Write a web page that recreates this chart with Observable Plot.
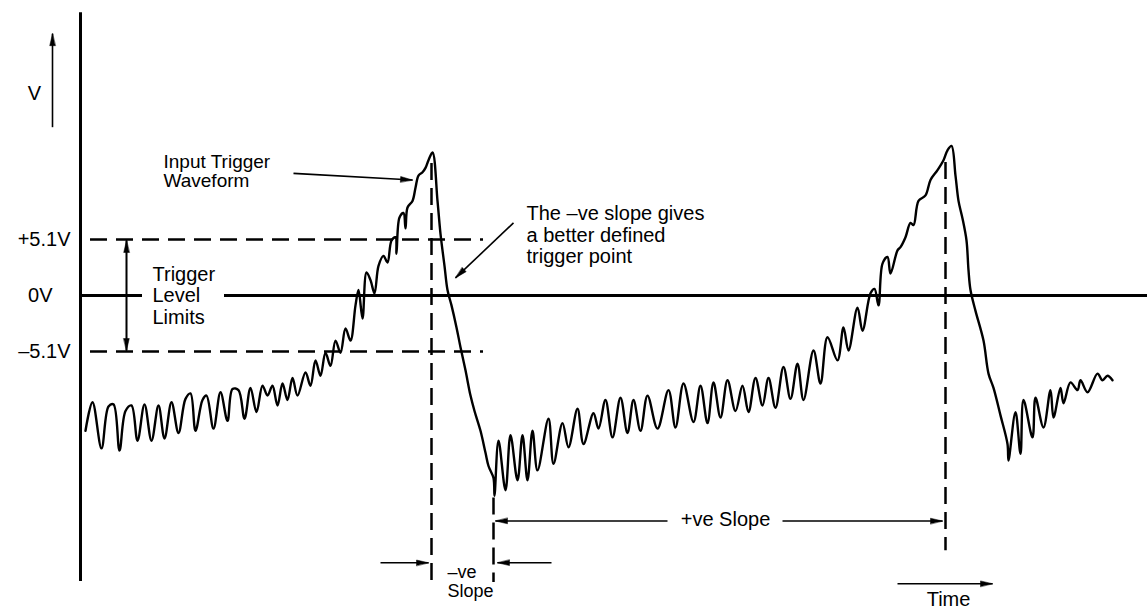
<!DOCTYPE html>
<html><head><meta charset="utf-8">
<script src="https://cdn.jsdelivr.net/npm/d3@7"></script>
<script src="https://cdn.jsdelivr.net/npm/@observablehq/plot@0.6"></script>
<style>
html,body{margin:0;padding:0;background:#fff;}
#chart svg{display:block;}
</style></head><body><div id="chart"></div>
<script>
// Waveform: time (ms) and voltage (V)
const waveTime = [
  0.5,1.2,2.1,2.8,3.3,3.9,4.5,5.1,5.7,6.4,7.1,7.8,8.4,9.1,9.8,10.5,11.0,11.5,12.2,12.6,13.3,14.0,14.7,15.2,15.8,16.4,17.0,17.6,18.2,18.7,19.2,19.7,20.2,20.7,21.2,21.7,
  22.5,23.0,23.5,24.0,24.5,25.0,25.5,26.0,26.5,27.0,27.5,27.8,28.2,28.6,29.0,29.4,29.8,30.3,30.7,31.1,31.5,31.6,31.9,32.3,32.5,32.7,33.2,33.5,33.8,34.2,34.5,34.8,35.2,
  35.7,36.0,36.4,36.7,37.1,37.6,38.0,38.5,39.0,39.4,40.0,40.5,40.8,41.3,41.4,
  41.8,42.5,43.0,43.7,44.2,44.7,45.2,45.7,46.8,47.3,48.2,48.8,49.7,50.3,51.3,51.8,52.5,53.2,54.0,54.7,55.3,56.0,56.7,57.7,58.8,59.5,60.3,61.3,62.0,62.7,63.3,64.0,64.7,65.5,66.2,66.8,67.5,68.2,68.8,69.5,70.3,71.0,71.7,72.3,73.3,74.0,74.7,75.7,76.3,76.8,77.7,78.2,79.0,79.4,79.8,80.2,80.7,81.0,81.7,82.0,82.5,83.0,83.3,83.8,84.5,85.0,85.7,86.3,86.7,87.1,
  87.5,87.8,88.2,88.6,88.8,89.0,89.5,90.3,90.8,91.3,92.0,92.7,92.8,
  93.5,94.0,94.3,95.2,95.5,96.3,97.0,97.3,98.0,98.3,99.0,99.7,100.0,100.7,101.7,102.2,102.7,103.2
];
const waveVolts = [
  -12.3,-9.7,-13.9,-10.1,-9.9,-14.1,-10.5,-10.0,-13.2,-9.9,-13.2,-10.0,-13.0,-9.7,-12.5,-9.4,-8.9,-12.3,-9.5,-9.1,-12.1,-8.8,-11.4,-8.5,-8.6,-11.2,-8.4,-10.6,-8.2,-9.1,-8.2,-10.0,-8.0,-9.5,-7.5,-9.1,
  -7.0,-8.2,-5.9,-7.3,-5.2,-6.4,-4.1,-5.2,-3.0,-4.1,-0.9,0.5,-2.1,2.1,1.4,0.2,2.7,3.6,3.0,5.0,5.3,3.8,7.1,7.5,6.1,8.0,8.6,9.8,10.9,11.2,11.6,12.3,13.0,
  8.6,5.6,2.7,0.5,-0.9,-2.9,-4.7,-6.8,-9.1,-10.5,-12.3,-14.3,-15.5,-16.6,-18.2,
  -13.2,-17.7,-12.7,-16.8,-12.7,-16.8,-12.3,-15.9,-11.2,-15.3,-11.6,-13.8,-10.3,-13.5,-10.7,-12.1,-9.5,-12.9,-9.3,-12.5,-9.5,-12.3,-9.1,-12.1,-8.6,-12.0,-8.0,-11.5,-8.2,-11.6,-7.9,-11.1,-7.7,-10.5,-8.2,-10.6,-7.5,-10.0,-7.5,-10.2,-6.5,-9.4,-6.2,-9.5,-5.0,-8.0,-3.8,-5.9,-2.9,-5.0,-1.1,-3.2,0.2,0.6,-0.9,2.9,3.5,2.0,4.1,4.4,5.3,6.6,6.4,8.6,9.1,10.5,11.4,12.3,13.2,13.6,
  10.9,8.6,7.0,5.0,2.3,0.5,-1.4,-4.1,-7.1,-8.4,-10.9,-13.5,-15.0,
  -10.6,-14.4,-9.5,-12.9,-9.3,-12.0,-8.6,-11.1,-8.4,-9.8,-7.9,-8.6,-7.7,-8.8,-7.1,-7.7,-7.3,-7.7
];
// Trigger level limits
const levelValues = [5.1, 0, -5.1];
const levelLabels = ["+5.1V", "0V", "\u20135.1V"];
// Trigger instants: peak 1 (-ve slope start), -ve slope end, peak 2
const triggerTimes = [35.1, 41.3, 86.5];

const wave = waveTime.map((t, i) => ({t, v: waveVolts[i]}));
const FONT = "Liberation Sans, Arial, Helvetica, sans-serif";

const headShape = {
  draw(context) {
    context.moveTo(0, 0);
    context.lineTo(-2.8, 12);
    context.lineTo(2.8, 12);
    context.closePath();
  }
};

const arrows = [
  {x1: -2.8, y1: 15.3, x2: -2.8, y2: 23.8, rot: 0},
  {x1: 4.6, y1: -5.0, x2: 4.6, y2: 5.0, rot: 0},
  {x1: 4.6, y1: 5.0, x2: 4.6, y2: -5.0, rot: 180},
  {x1: 21.3, y1: 11.1, x2: 33.2, y2: 10.5, rot: 93.4},
  {x1: 43.3, y1: 6.6, x2: 37.5, y2: 1.6, rot: 226.5},
  {x1: 30.0, y1: -24.3, x2: triggerTimes[0] - 0.3, y2: -24.3, rot: 90},
  {x1: 47.1, y1: -24.3, x2: triggerTimes[1] + 0.4, y2: -24.3, rot: -90},
  {x1: 58.7, y1: -20.5, x2: triggerTimes[1] + 0.2, y2: -20.5, rot: -90},
  {x1: 70.2, y1: -20.5, x2: triggerTimes[2] - 0.3, y2: -20.5, rot: 90},
  {x1: 81.7, y1: -26.2, x2: 91.2, y2: -26.2, rot: 90}
];

const levelText = levelLabels.map((s, i) => ({s, v: levelValues[i], t: levelValues[i] === 0 ? -2.8 : -1.0}));

const txt = (s, t, v, opts = {}) =>
  Plot.text([s], {x: t, y: v, text: d => d, fontSize: 20, fontFamily: FONT, fill: "black", ...opts});

const plot = Plot.plot({
  width: 1147,
  height: 609,
  marginLeft: 80, marginRight: 0, marginTop: 0, marginBottom: 0,
  style: {background: "white", color: "black", overflow: "visible"},
  x: {domain: [0, 106.7], axis: null},
  y: {domain: [-314 / 11, 295 / 11], axis: null},
  marks: [
    // vertical axis
    Plot.ruleX([0], {y1: 25.7, y2: -26.0, strokeWidth: 3, stroke: "black"}),
    // 0V line (broken for label)
    Plot.ruleY([0], {x1: 0, x2: 6.2, strokeWidth: 3, stroke: "black"}),
    Plot.ruleY([0], {x1: 14.4, x2: 106.7, strokeWidth: 3, stroke: "black"}),
    // trigger level limits, dashed
    Plot.ruleY([5.1, -5.1], {x1: 1.0, x2: 40.3, strokeWidth: 2.5, stroke: "black", strokeDasharray: "17,9"}),
    // vertical dashed markers
    Plot.ruleX([triggerTimes[0]], {y1: 12.0, y2: -25.9, strokeWidth: 2.5, stroke: "black", strokeDasharray: "17,8"}),
    Plot.ruleX([triggerTimes[1]], {y1: -18.4, y2: -26.1, strokeWidth: 2.5, stroke: "black", strokeDasharray: "17,8"}),
    Plot.ruleX([triggerTimes[2]], {y1: 12.1, y2: -23.2, strokeWidth: 2.5, stroke: "black", strokeDasharray: "17,8"}),
    // waveform
    Plot.line(wave, {x: "t", y: "v", stroke: "black", strokeWidth: 2.4, strokeLinejoin: "round", curve: "catmull-rom"}),
    // arrows
    Plot.link(arrows, {x1: "x1", y1: "y1", x2: "x2", y2: "y2", stroke: "black", strokeWidth: 1.6}),
    Plot.vector(arrows, {x: "x2", y: "y2", rotate: "rot", length: 12, anchor: "start", shape: headShape, fill: "black", stroke: "black", strokeWidth: 0.5}),
    // level labels
    Plot.text(levelText, {x: "t", y: "v", text: "s", textAnchor: "end", fontSize: 20, fontFamily: FONT, fill: "black"}),
    // V label
    txt("V", -4.6, 18.4),
    // annotations
    txt("Trigger\nLevel\nLimits", 7.2, 0.0, {textAnchor: "start", lineHeight: 1.08}),
    txt("Input Trigger\nWaveform", 8.3, 11.3, {textAnchor: "start", lineHeight: 1.0, fontSize: 19}),
    txt("The \u2013ve slope gives\na better defined\ntrigger point", 44.6, 5.5, {textAnchor: "start", lineHeight: 1.07}),
    txt("\u2013ve\nSlope", 36.7, -26.0, {textAnchor: "start", lineHeight: 1.08, fontSize: 18}),
    txt("+ve Slope", 64.5, -20.4),
    txt("Time", 86.8, -27.6)
  ]
});
document.getElementById("chart").append(plot);
</script>
</body></html>
